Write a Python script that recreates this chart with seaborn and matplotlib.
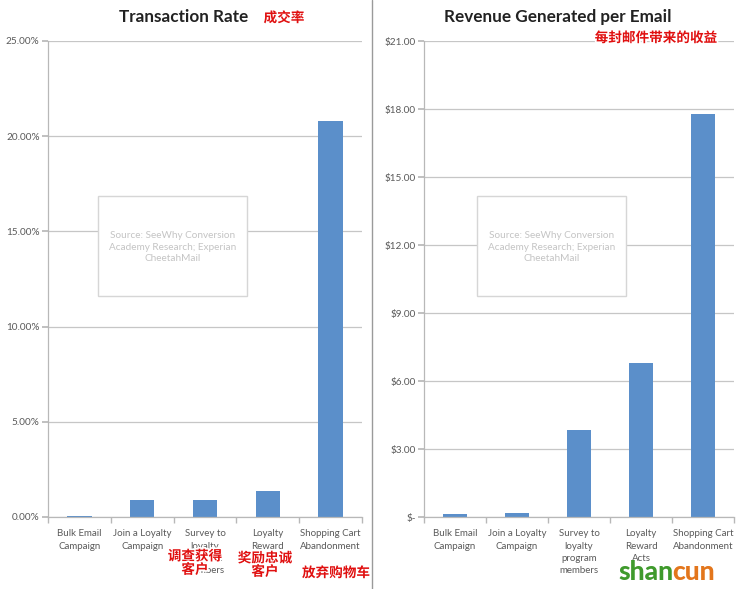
import matplotlib.pyplot as plt
import matplotlib.patches as mpatches
import matplotlib.patheffects as pe
from matplotlib.ticker import FuncFormatter, MultipleLocator
import seaborn as sns
import pandas as pd

# ---- data ----
categories = [
    "Bulk Email\nCampaign",
    "Join a Loyalty\nCampaign",
    "Survey to\nloyalty\nprogram\nmembers",
    "Loyalty\nReward\nActs",
    "Shopping Cart\nAbandonment",
]
transaction_rate = [0.05, 0.87, 0.88, 1.35, 20.8]   # percent
revenue_per_email = [0.13, 0.17, 3.84, 6.8, 17.8]   # dollars

source_note = "Source: SeeWhy Conversion\nAcademy Research; Experian\nCheetahMail"

sns.set_theme(style="white")
plt.rcParams["font.family"] = ["Lato", "Noto Sans CJK SC", "DejaVu Sans"]

BAR = "#5b8fca"
GRID = "#c6c6c6"
TICK_TXT = "#5a5a5a"
RED = "#e01010"

W, H = 744, 589
fig = plt.figure(figsize=(W / 100, H / 100), dpi=100)


def px_axes(x0, x1, y0, y1):
    return fig.add_axes([x0 / W, 1 - y1 / H, (x1 - x0) / W, (y1 - y0) / H])


def style_axes(ax, df, col, ymax, step, fmt):
    sns.barplot(data=df, x="cat", y=col, color=BAR, width=0.39, ax=ax,
                saturation=1, edgecolor="none")
    ax.set_xlim(-0.5, 4.5)
    ax.set_ylim(0, ymax)
    ax.yaxis.set_major_locator(MultipleLocator(step))
    ax.yaxis.set_major_formatter(FuncFormatter(fmt))
    ax.yaxis.grid(True, color=GRID, linewidth=0.9)
    ax.set_axisbelow(True)
    ax.set_xlabel("")
    ax.set_ylabel("")
    for s in ("top", "right"):
        ax.spines[s].set_visible(False)
    for s in ("left", "bottom"):
        ax.spines[s].set_color("#b8b8b8")
        ax.spines[s].set_linewidth(0.9)
    ax.tick_params(axis="y", length=4, color="#b8b8b8", pad=2,
                   labelsize=7.2, labelcolor=TICK_TXT, left=True)
    ax.tick_params(axis="x", which="major", length=0, pad=9,
                   labelsize=7.0, labelcolor=TICK_TXT)
    ax.set_xticks([i - 0.5 for i in range(6)], minor=True)
    ax.tick_params(axis="x", which="minor", length=4, color="#b8b8b8",
                   bottom=True)
    for lab in ax.get_xticklabels():
        lab.set_linespacing(1.45)


df = pd.DataFrame({"cat": categories, "rate": transaction_rate,
                   "rev": revenue_per_email})

ax1 = px_axes(48, 362, 41, 517)
style_axes(ax1, df, "rate", 25, 5, lambda v, p: f"{v:.2f}%")

ax2 = px_axes(424, 734, 41, 517)
style_axes(ax2, df, "rev", 21, 3,
           lambda v, p: "$-" if v == 0 else f"${v:.2f}")

# titles
fig.text(184 / W, 1 - 17 / H, "Transaction Rate", ha="center", va="center",
         fontsize=12.3, fontweight="bold", color="#222222")
fig.text(558 / W, 1 - 17 / H, "Revenue Generated per Email", ha="center",
         va="center", fontsize=12.3, fontweight="bold", color="#222222")

# source boxes
for x0 in (98, 477):
    rect = mpatches.Rectangle((x0 / W, 1 - 296 / H), 149 / W, 100 / H,
                              transform=fig.transFigure, facecolor="white",
                              edgecolor="#d6d6d6", linewidth=1, zorder=5)
    fig.patches.append(rect)
    fig.text((x0 + 74.5) / W, 1 - 247 / H, source_note, ha="center",
             va="center", fontsize=7.2, color="#c4c4c4", linespacing=1.4,
             zorder=6)

# separator between the two charts
fig.add_artist(plt.Line2D([372 / W, 372 / W], [0, 1], color="#9a9a9a",
                          linewidth=1, transform=fig.transFigure))

# red chinese annotations (white halo, as pasted on top of the chart)
cjk = ["Noto Sans CJK SC", "DejaVu Sans"]
halo = [pe.withStroke(linewidth=2.5, foreground="white")]
notes = [
    (284, 18, "成交率"),
    (656, 38, "每封邮件带来的收益"),
    (195, 563, "调查获得\n客户"),
    (265, 565, "奖励忠诚\n客户"),
    (336, 573, "放弃购物车"),
]
for x, y, t in notes:
    fig.text(x / W, 1 - y / H, t, ha="center", va="center", fontsize=9.8,
             fontweight="bold", color=RED, family=cjk, linespacing=0.95,
             zorder=10, path_effects=halo)

# watermark
fig.text(618 / W, 1 - 572 / H, "shan", ha="left", va="center", fontsize=19,
         fontweight="black", color="#3f9a2c", zorder=10)
fig.text(672 / W, 1 - 572 / H, "cun", ha="left", va="center", fontsize=19,
         fontweight="black", color="#e3761c", zorder=10)

fig.savefig("out.png", dpi=100, facecolor="white")
